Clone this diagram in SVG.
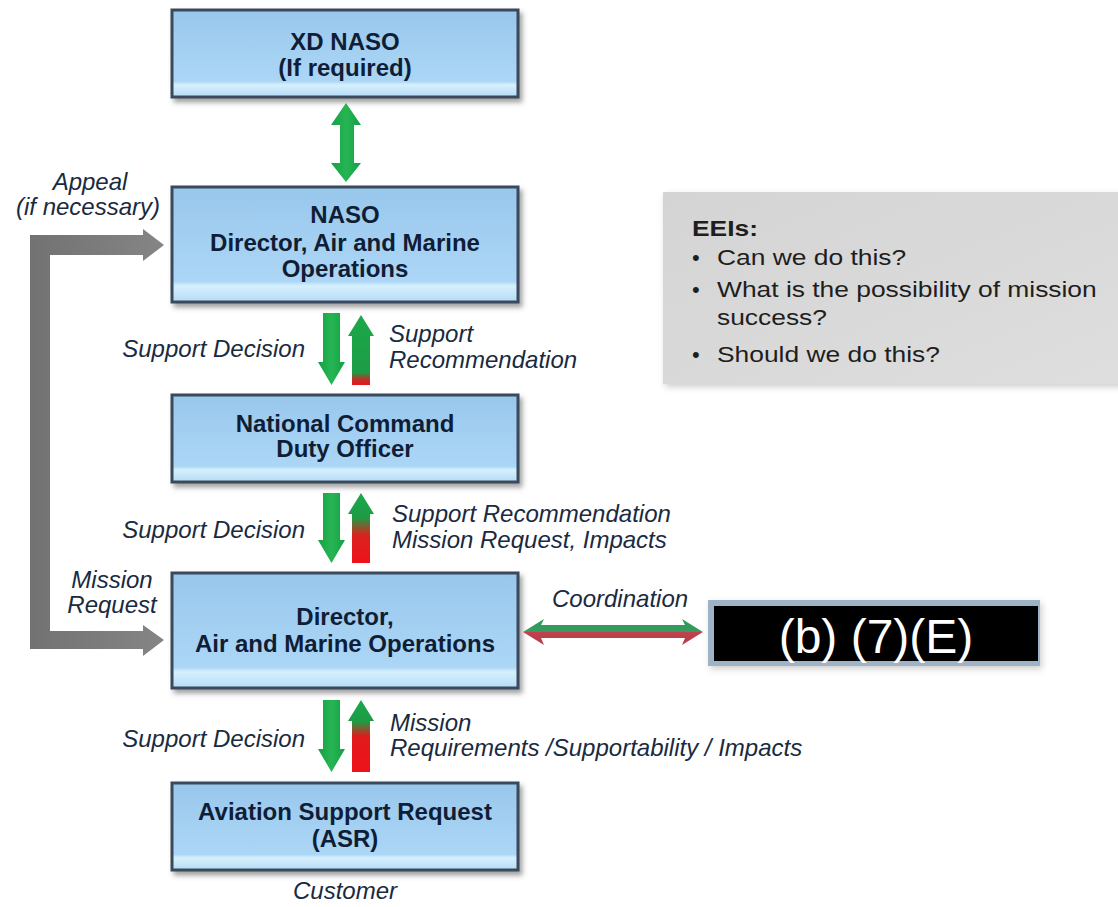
<svg xmlns="http://www.w3.org/2000/svg" width="1118" height="907" viewBox="0 0 1118 907">
<defs>
  <linearGradient id="boxFill" x1="0" y1="0" x2="0" y2="1">
    <stop offset="0" stop-color="#98c7ec"/>
    <stop offset="0.82" stop-color="#acd6f6"/>
    <stop offset="0.86" stop-color="#d6f0fd"/>
    <stop offset="1" stop-color="#b5dbf6"/>
  </linearGradient>
  <linearGradient id="grayFill" x1="0" y1="0" x2="1" y2="1">
    <stop offset="0" stop-color="#d4d4d4"/>
    <stop offset="1" stop-color="#dedede"/>
  </linearGradient>
  <linearGradient id="green" x1="0" y1="0" x2="1" y2="0">
    <stop offset="0" stop-color="#14a044"/>
    <stop offset="0.5" stop-color="#27b554"/>
    <stop offset="1" stop-color="#14a044"/>
  </linearGradient>
  <linearGradient id="up1" x1="0" y1="0" x2="0" y2="1">
    <stop offset="0" stop-color="#1aa84a"/>
    <stop offset="0.82" stop-color="#1d9c45"/>
    <stop offset="0.92" stop-color="#c0302a"/>
    <stop offset="1" stop-color="#e8141c"/>
  </linearGradient>
  <linearGradient id="up2" x1="0" y1="0" x2="0" y2="1">
    <stop offset="0" stop-color="#1aa84a"/>
    <stop offset="0.35" stop-color="#1d9c45"/>
    <stop offset="0.6" stop-color="#d8231f"/>
    <stop offset="1" stop-color="#ee121a"/>
  </linearGradient>
  <linearGradient id="up3" x1="0" y1="0" x2="0" y2="1">
    <stop offset="0" stop-color="#1aa84a"/>
    <stop offset="0.3" stop-color="#1d9c45"/>
    <stop offset="0.5" stop-color="#e01b1c"/>
    <stop offset="1" stop-color="#ee121a"/>
  </linearGradient>
  <linearGradient id="coord" x1="0" y1="0" x2="0" y2="1">
    <stop offset="0" stop-color="#2a9a5a"/>
    <stop offset="0.5" stop-color="#3a9a60"/>
    <stop offset="0.52" stop-color="#c2404e"/>
    <stop offset="1" stop-color="#b83a4a"/>
  </linearGradient>
  <linearGradient id="grayArrow" x1="0" y1="0" x2="1" y2="0">
    <stop offset="0" stop-color="#727272"/>
    <stop offset="1" stop-color="#858585"/>
  </linearGradient>
  <filter id="shadow" x="-5%" y="-10%" width="115%" height="130%">
    <feDropShadow dx="3" dy="4" stdDeviation="2.5" flood-color="#555" flood-opacity="0.55"/>
  </filter>
  <filter id="soft" x="-5%" y="-10%" width="115%" height="130%">
    <feDropShadow dx="2" dy="3" stdDeviation="3" flood-color="#888" flood-opacity="0.4"/>
  </filter>
</defs>
<style>
  .box { fill: url(#boxFill); stroke: #3a4a5b; stroke-width: 3; filter: url(#shadow); }
  .bt { font-family: "Liberation Sans", Arial, sans-serif; font-weight: bold; font-size: 24px; fill: #0f1e36; text-anchor: middle; }
  .lbl { font-family: "Liberation Sans", Arial, sans-serif; font-style: italic; font-size: 24px; fill: #1a2a40; }
  .mid { text-anchor: middle; }
  .end { text-anchor: end; }
  .eei { font-family: "Liberation Sans", Arial, sans-serif; font-size: 22px; fill: #1e1e1e; }
</style>
<rect width="1118" height="907" fill="#ffffff"/>

<g id="node-xd-naso">
  <rect class="box" x="172" y="10" width="346" height="87"/>
  <text class="bt" x="345" y="50">XD NASO</text>
  <text class="bt" x="345" y="76">(If required)</text>
</g>

<g id="node-naso">
  <rect class="box" x="172" y="187" width="346" height="115"/>
  <text class="bt" x="345" y="223">NASO</text>
  <text class="bt" x="345" y="251">Director, Air and Marine</text>
  <text class="bt" x="345" y="277">Operations</text>
</g>

<g id="node-ncdo">
  <rect class="box" x="172" y="395" width="346" height="87"/>
  <text class="bt" x="345" y="432">National Command</text>
  <text class="bt" x="345" y="457">Duty Officer</text>
</g>

<g id="node-director">
  <rect class="box" x="172" y="573" width="346" height="115"/>
  <text class="bt" x="345" y="625">Director,</text>
  <text class="bt" x="345" y="652">Air and Marine Operations</text>
</g>

<g id="node-asr">
  <rect class="box" x="172" y="783" width="346" height="87"/>
  <text class="bt" x="345" y="820">Aviation Support Request</text>
  <text class="bt" x="345" y="847">(ASR)</text>
</g>

<g id="node-redacted">
  <rect x="708" y="600" width="332" height="66" fill="#9fb3c6" filter="url(#soft)"/>
  <rect x="714" y="606" width="324" height="55" fill="#000000"/>
  <text x="876" y="653" font-family="Liberation Sans, Arial, sans-serif" font-size="48" fill="#ffffff" text-anchor="middle">(b) (7)(E)</text>
</g>

<g id="node-eeis">
  <rect x="663" y="192" width="460" height="192" fill="url(#grayFill)" filter="url(#soft)"/>
  <text class="eei" transform="translate(692,236) scale(1.2,1)" font-weight="bold">EEIs:</text>
  <text class="eei" x="692" y="265">•</text>
  <text class="eei" transform="translate(717,265) scale(1.2,1)">Can we do this?</text>
  <text class="eei" x="692" y="297">•</text>
  <text class="eei" transform="translate(717,297) scale(1.2,1)">What is the possibility of mission</text>
  <text class="eei" transform="translate(717,325) scale(1.2,1)">success?</text>
  <text class="eei" x="692" y="362">•</text>
  <text class="eei" transform="translate(717,362) scale(1.2,1)">Should we do this?</text>
</g>

<g id="connectors">
  <!-- XD NASO <-> NASO -->
  <polygon fill="url(#green)" points="346,103 361,125 354,125 354,163 361,163 346,182 331,163 340,163 340,125 331,125"/>

  <!-- NASO <-> NCDO -->
  <polygon fill="url(#green)" points="323,313 340,313 340,362 345,362 331.5,385 318,362 323,362"/>
  <polygon fill="url(#up1)" points="361,315 374,336 370,336 370,385 352,385 352,336 348,336"/>

  <!-- NCDO <-> Director -->
  <polygon fill="url(#green)" points="323,493 340,493 340,540 345,540 331.5,563 318,540 323,540"/>
  <polygon fill="url(#up2)" points="361,493 374,514 370,514 370,563 352,563 352,514 348,514"/>

  <!-- Director <-> ASR -->
  <polygon fill="url(#green)" points="323,700 340,700 340,749 345,749 331.5,772 318,749 323,749"/>
  <polygon fill="url(#up3)" points="361,700 374,721 370,721 370,772 352,772 352,721 348,721"/>

  <!-- Coordination -->
  <polygon fill="url(#coord)" points="523,632 544,619 541,625 685,625 682,619 703,632 682,645 685,638 541,638 544,645"/>

  <!-- Appeal / Mission Request bracket -->
  <polygon fill="url(#grayArrow)" points="30,235 143,235 143,229 164,245 143,261 143,255 50,255 50,631 143,631 143,625 164,640 143,656 143,649 30,649"/>

  <text class="lbl mid" x="90" y="190">Appeal</text>
  <text class="lbl mid" x="88" y="215">(if necessary)</text>
  <text class="lbl mid" x="112" y="588">Mission</text>
  <text class="lbl mid" x="112" y="613">Request</text>

  <text class="lbl end" x="305" y="357">Support Decision</text>
  <text class="lbl" x="389" y="342">Support</text>
  <text class="lbl" x="389" y="368">Recommendation</text>

  <text class="lbl end" x="305" y="538">Support Decision</text>
  <text class="lbl" x="392" y="522">Support Recommendation</text>
  <text class="lbl" x="392" y="548">Mission Request, Impacts</text>

  <text class="lbl end" x="305" y="747">Support Decision</text>
  <text class="lbl" x="390" y="731">Mission</text>
  <text class="lbl" x="390" y="756">Requirements /Supportability / Impacts</text>

  <text class="lbl" x="552" y="607" font-size="21">Coordination</text>
  <text class="lbl mid" x="345" y="899">Customer</text>
</g>
</svg>
